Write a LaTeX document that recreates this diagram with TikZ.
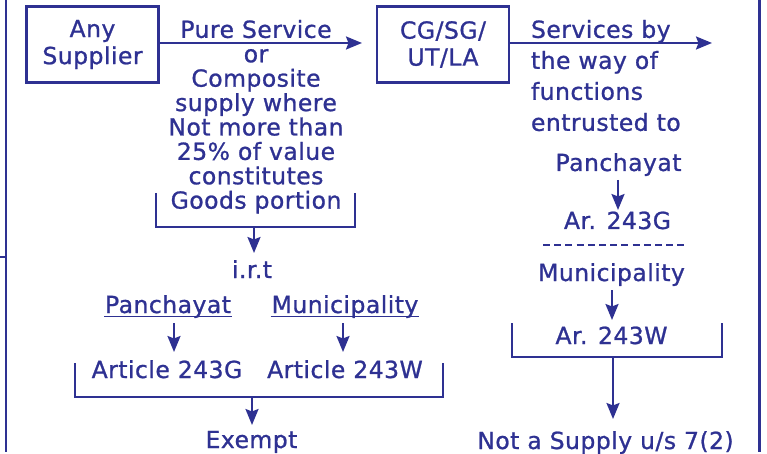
\documentclass[tikz,border=0pt]{standalone}
\usepackage{fontspec}
\setmainfont{DejaVu Sans}[LetterSpace=2,FakeBold=1]
\usetikzlibrary{arrows.meta}
\definecolor{navy}{RGB}{46,49,146}
\begin{document}
\begin{tikzpicture}[x=1pt,y=-1pt,line width=2pt,
  every node/.style={text=navy},
  ln/.style={draw=navy,line width=2.2pt},
  arr/.style={draw=navy,line width=2.2pt,-{Stealth[length=16pt,width=13pt,inset=2.5pt]}},
  txt/.style={inner sep=0pt,font=\fontsize{23.5}{24.4}\selectfont,align=center},
  boxnode/.style={draw=navy,line width=2.2pt,minimum width=132pt,minimum height=76pt,inner sep=0pt,
    font=\fontsize{23.5}{27}\selectfont,align=center},
  uline/.style={draw=navy,line width=1.4pt}]
\useasboundingbox (0,0) rectangle (767,454);
% partial frame
\draw[navy,line width=2.5pt] (6,0) -- (6,452);
\draw[navy,line width=2.5pt] (0,257) -- (6,257);
\draw[navy,line width=2.5pt] (759.5,0) -- (759.5,452);

% left branch
\node[boxnode] (sup) at (92.5,44.5) {Any\\Supplier};
\coordinate (a1end) at (362,43);
\draw[arr] (sup.east |- a1end) -- (a1end);
\node[txt,anchor=north] (lbl1) at (256,19) {Pure Service\\or\\Composite\\supply where\\Not more than\\25\% of value\\constitutes\\Goods portion};
\coordinate (b1a) at (156,193); \coordinate (b1b) at (156,227);
\coordinate (b1c) at (355,227); \coordinate (b1d) at (355,193);
\draw[ln] (b1a) -- (b1b) -- (b1c) -- (b1d);
\coordinate (b1m) at (254,227); \coordinate (irtin) at (254,253);
\draw[arr] (b1m) -- (irtin);
\node[txt,anchor=base] (irt) at (252,278) {i.r.t};
\node[txt,anchor=base] (pan1) at (168,313) {Panchayat};
\node[txt,anchor=base] (mun1) at (345,313) {Municipality};
\draw[uline] ([yshift=-3.5pt]pan1.base west) -- ([yshift=-3.5pt]pan1.base east);
\draw[uline] ([yshift=-3.5pt]mun1.base west) -- ([yshift=-3.5pt]mun1.base east);
\coordinate (p1s) at (174,323); \coordinate (p1e) at (174,352);
\coordinate (m1s) at (343,323); \coordinate (m1e) at (343,352);
\draw[arr] (p1s) -- (p1e);
\draw[arr] (m1s) -- (m1e);
\node[txt,anchor=base] (art1) at (167,378) {Article 243G};
\node[txt,anchor=base] (art2) at (345,378) {Article 243W};
\coordinate (b2a) at (75,363); \coordinate (b2b) at (75,397);
\coordinate (b2c) at (443,397); \coordinate (b2d) at (443,363);
\draw[ln] (b2a) -- (b2b) -- (b2c) -- (b2d);
\coordinate (b2m) at (252,397); \coordinate (exin) at (252,425);
\draw[arr] (b2m) -- (exin);
\node[txt,anchor=base] (ex) at (251.5,448) {Exempt};

% right branch
\node[boxnode] (gov) at (443,44.5) {CG/SG/\\UT/LA};
\coordinate (a2end) at (712,43);
\draw[arr] (gov.east |- a2end) -- (a2end);
\node[txt,anchor=north west,align=left,font=\fontsize{23.5}{31}\selectfont] (lbl2) at (530,19) {Services by\\the way of\\functions\\entrusted to};
\node[txt,anchor=base] (pan2) at (618.5,171) {Panchayat};
\coordinate (p2s) at (618,180); \coordinate (p2e) at (618,210);
\draw[arr] (p2s) -- (p2e);
\node[txt,anchor=base] (ar1) at (617.5,229) {Ar. 243G};
\coordinate (d1) at (543,245); \coordinate (d2) at (688,245);
\draw[navy,line width=1.6pt,dash pattern=on 7pt off 4.2pt] (d1) -- (d2);
\node[txt,anchor=base] (mun2) at (611.5,281) {Municipality};
\coordinate (m2s) at (612,290); \coordinate (m2e) at (612,320);
\draw[arr] (m2s) -- (m2e);
\coordinate (b3a) at (512,323); \coordinate (b3b) at (512,357);
\coordinate (b3c) at (722,357); \coordinate (b3d) at (722,323);
\draw[ln] (b3a) -- (b3b) -- (b3c) -- (b3d);
\node[txt,anchor=base] (ar2) at (611.5,344) {Ar. 243W};
\coordinate (b3m) at (613,357); \coordinate (nsin) at (613,419);
\draw[arr] (b3m) -- (nsin);
\node[txt,anchor=base] (ns) at (605.5,449) {Not a Supply u/s 7(2)};
\end{tikzpicture}
\end{document}
